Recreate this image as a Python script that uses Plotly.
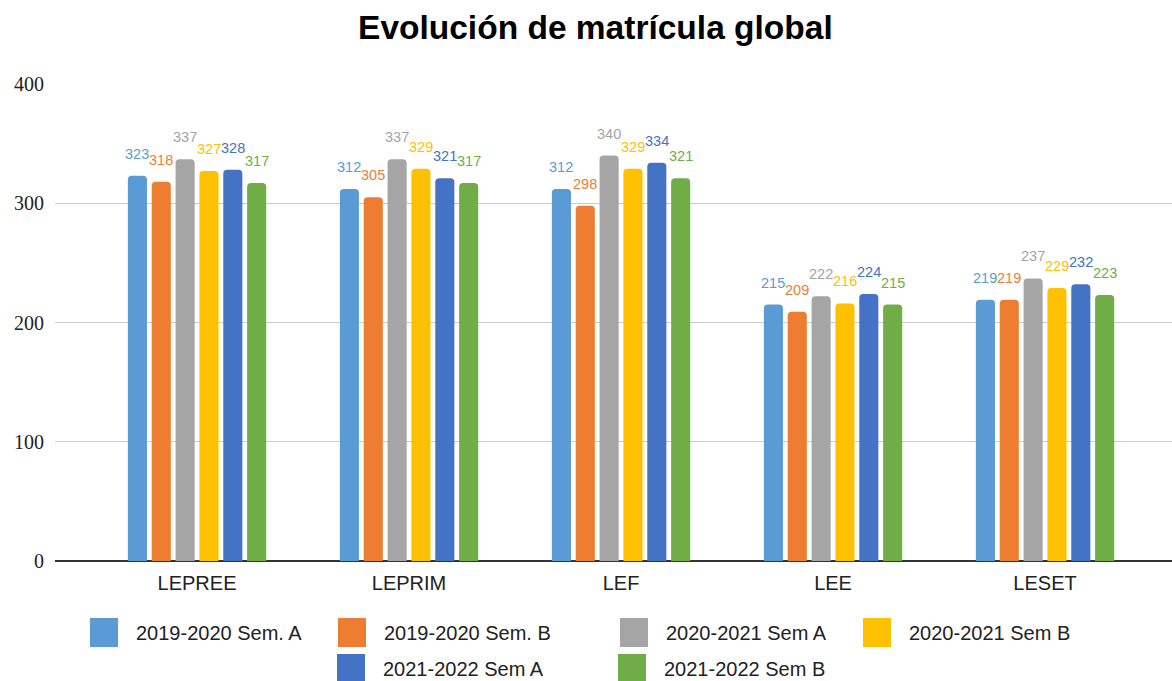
import plotly.graph_objects as go

categories = ["LEPREE", "LEPRIM", "LEF", "LEE", "LESET"]
series_names = ["2019-2020 Sem. A", "2019-2020 Sem. B", "2020-2021 Sem A",
                "2020-2021 Sem B", "2021-2022 Sem A", "2021-2022 Sem B"]
s_2019A = [323, 312, 312, 215, 219]
s_2019B = [318, 305, 298, 209, 219]
s_2020A = [337, 337, 340, 222, 237]
s_2020B = [327, 329, 329, 216, 229]
s_2021A = [328, 321, 334, 224, 232]
s_2021B = [317, 317, 321, 215, 223]
series_values = [s_2019A, s_2019B, s_2020A, s_2020B, s_2021A, s_2021B]
colors = ["#5B9BD5", "#ED7D31", "#A5A5A5", "#FFC000", "#4472C4", "#70AD47"]
y_ticks = [0, 100, 200, 300, 400]

W, H = 1172, 681
ML, MR, MT, MB = 55, 0, 84, 120
plot_w = W - ML - MR
plot_h = H - MT - MB

fig = go.Figure()
for name, vals, col in zip(series_names, series_values, colors):
    fig.add_trace(go.Bar(name=name, x=categories, y=vals, marker_color=col,
                         marker_line_width=0, showlegend=False))

# data labels above bars
cat_px = 212.0
bargap = 0.325
slot = cat_px * (1 - bargap) / len(series_names)
annotations = []
for i, (vals, col) in enumerate(zip(series_values, colors)):
    for c, v in zip(categories, vals):
        annotations.append(dict(x=c, y=v, xref="x", yref="y", text=str(v),
                                showarrow=False, yanchor="bottom",
                                xshift=(i - (len(series_names) - 1) / 2) * slot,
                                yshift=12,
                                font=dict(family="Liberation Sans, Arial", size=14.5, color=col)))

# manual legend (two centered rows)
def px_x(p):
    return (p - ML) / plot_w

def px_y(p):
    return (H - MB - p) / plot_h

legend_rows = [
    [(0, 90), (1, 338), (2, 620), (3, 863)],
    [(4, 337), (5, 618)],
]
row_centers = [632.5, 668.5]
shapes = []
for row, yc in zip(legend_rows, row_centers):
    for idx, xs in row:
        shapes.append(dict(type="rect", xref="paper", yref="paper",
                           x0=px_x(xs), x1=px_x(xs + 28),
                           y0=px_y(yc - 14.5), y1=px_y(yc + 14.5),
                           fillcolor=colors[idx], line=dict(width=0)))
        annotations.append(dict(x=px_x(xs + 44), y=px_y(yc), xref="paper", yref="paper",
                                text=series_names[idx], showarrow=False,
                                xanchor="left", yanchor="middle",
                                font=dict(family="Liberation Sans, Arial", size=20, color="#222222")))

fig.update_layout(
    width=W, height=H,
    margin=dict(l=ML, r=MR, t=MT, b=MB),
    paper_bgcolor="white", plot_bgcolor="white",
    barmode="group", bargap=bargap, bargroupgap=0.2, barcornerradius=4,
    title=dict(text="<b>Evolución de matrícula global</b>", x=0.508, xanchor="center",
               xref="container", yref="container", y=1 - 27 / H, yanchor="middle",
               font=dict(family="Liberation Sans, Arial", size=33.5, color="#000000")),
    xaxis=dict(range=[-0.67, len(categories) - 1 + (W - MR - (ML + 0.67 * cat_px + 4 * cat_px)) / cat_px],
               showgrid=False, ticks="", ticklabelstandoff=8,
               tickfont=dict(family="Liberation Sans, Arial", size=20, color="#222222"),
               showline=False, zeroline=False),
    yaxis=dict(range=[0, 400], tickvals=y_ticks, showgrid=True, gridcolor="#CCCCCC",
               gridwidth=1, zeroline=True, zerolinecolor="#333333", zerolinewidth=2,
               ticks="", ticklabelstandoff=10,
               tickfont=dict(family="Liberation Serif, Times New Roman", size=20, color="#222222")),
    annotations=annotations,
    shapes=shapes,
    showlegend=False,
)

fig.write_html("out.html", config={"displayModeBar": False},
               post_script="document.body.style.margin='0';document.body.style.overflow='hidden';")
